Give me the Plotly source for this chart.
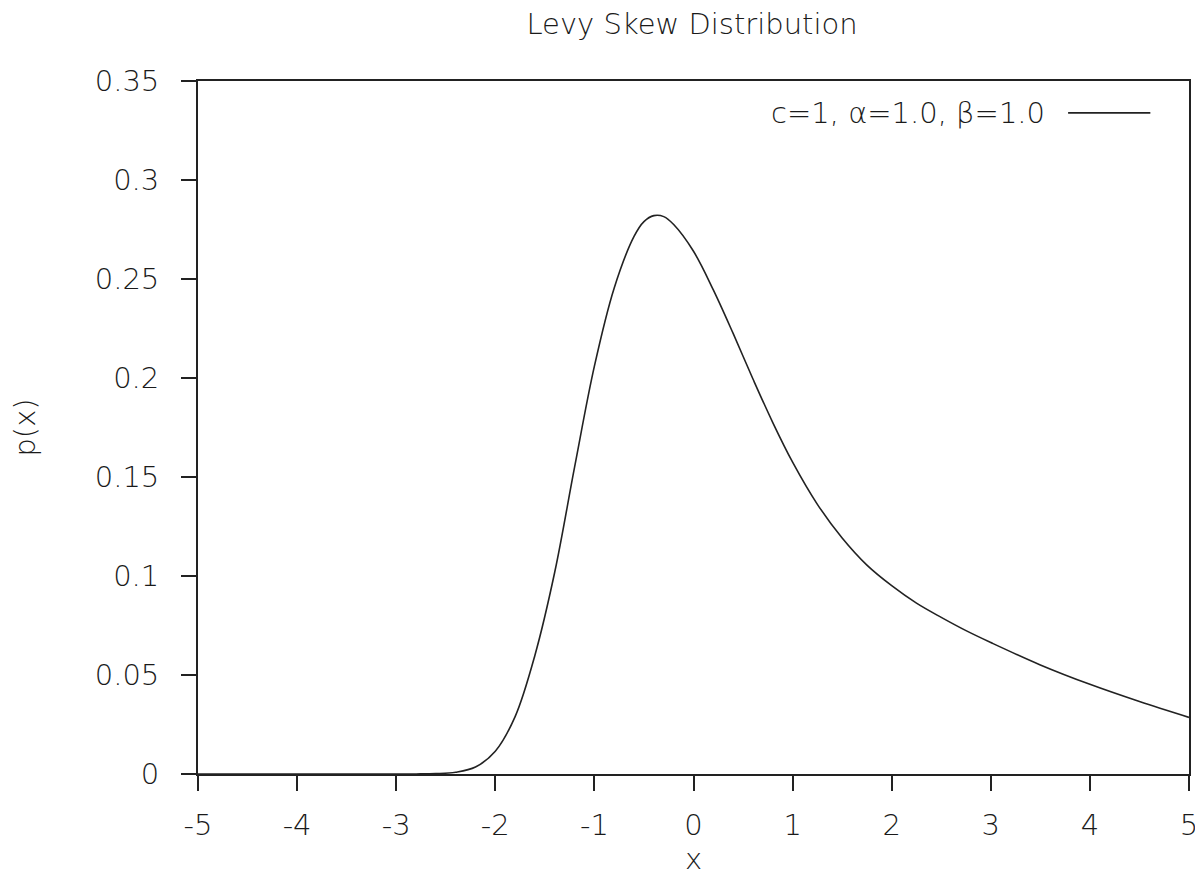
import plotly.graph_objects as go

# ----------------------------
# DATA
# ----------------------------
x_vals = [-5.0, -4.0, -3.0, -2.8, -2.6, -2.4, -2.2, -2.0, -1.8, -1.6, -1.4,
          -1.2, -1.0, -0.8, -0.6, -0.5, -0.4, -0.3, -0.2, 0.0, 0.2, 0.4,
          0.6, 0.8, 1.0, 1.25, 1.5, 1.75, 2.0, 2.25, 2.5, 2.75, 3.0, 3.5,
          4.0, 4.5, 5.0]
p_vals = [0.0, 0.0, 0.0, 0.00003, 0.0002, 0.0009, 0.0035, 0.0115, 0.029,
          0.060, 0.102, 0.155, 0.206, 0.2455, 0.2715, 0.279, 0.282, 0.2815,
          0.2775, 0.264, 0.2445, 0.2225, 0.1995, 0.1775, 0.1575, 0.1362,
          0.1192, 0.1055, 0.0951, 0.0863, 0.0791, 0.0724, 0.0664, 0.0551,
          0.0453, 0.0366, 0.0286]

x_ticks = [-5, -4, -3, -2, -1, 0, 1, 2, 3, 4, 5]
x_tick_text = ["-5", "-4", "-3", "-2", "-1", "0", "1", "2", "3", "4", "5"]
y_ticks = [0, 0.05, 0.1, 0.15, 0.2, 0.25, 0.3, 0.35]
y_tick_text = ["0", "0.05", "0.1", "0.15", "0.2", "0.25", "0.3", "0.35"]

series_name = "c=1, α=1.0, β=1.0"

# ----------------------------
# PLOT
# ----------------------------
FONT = dict(family="DejaVu Sans", size=29, color="#1a1a1a", weight=200)
INK = "#222222"

fig = go.Figure()

fig.add_trace(go.Scatter(
    x=x_vals,
    y=p_vals,
    mode="lines",
    name=series_name,
    line=dict(width=1.6, color=INK, shape="spline", smoothing=1.0),
    showlegend=False,
))

# gnuplot-style key: text on the left, line sample on the right
fig.add_annotation(
    x=0.857, y=0.954, xref="paper", yref="paper",
    xanchor="right", yanchor="middle",
    text=series_name, showarrow=False, font=FONT,
)
fig.add_shape(
    type="line", xref="paper", yref="paper",
    x0=0.878, x1=0.961, y0=0.954, y1=0.954,
    line=dict(color=INK, width=1.6),
)

axis_common = dict(
    showline=True, linecolor=INK, linewidth=1.8, mirror=True,
    ticks="outside", ticklen=15, tickwidth=1.8, tickcolor=INK,
    showgrid=False, zeroline=False, tickfont=FONT,
)

fig.update_layout(
    width=1203, height=892,
    margin=dict(l=190, r=22, t=73, b=126),
    paper_bgcolor="white", plot_bgcolor="white",
    font=FONT,
    title=dict(text="Levy Skew Distribution", x=0.5686, xanchor="center",
               y=0.982, yanchor="middle", font=FONT),
    xaxis=dict(range=[-5, 5], tickvals=x_ticks, ticktext=x_tick_text,
               ticklabelstandoff=9,
               title=dict(text="x", font=FONT, standoff=2), **axis_common),
    yaxis=dict(range=[0, 0.35], tickvals=y_ticks, ticktext=y_tick_text,
               ticklabelstandoff=16,
               title=dict(text="p(x)", font=FONT, standoff=52), **axis_common),
)

fig.write_html("out.html")
